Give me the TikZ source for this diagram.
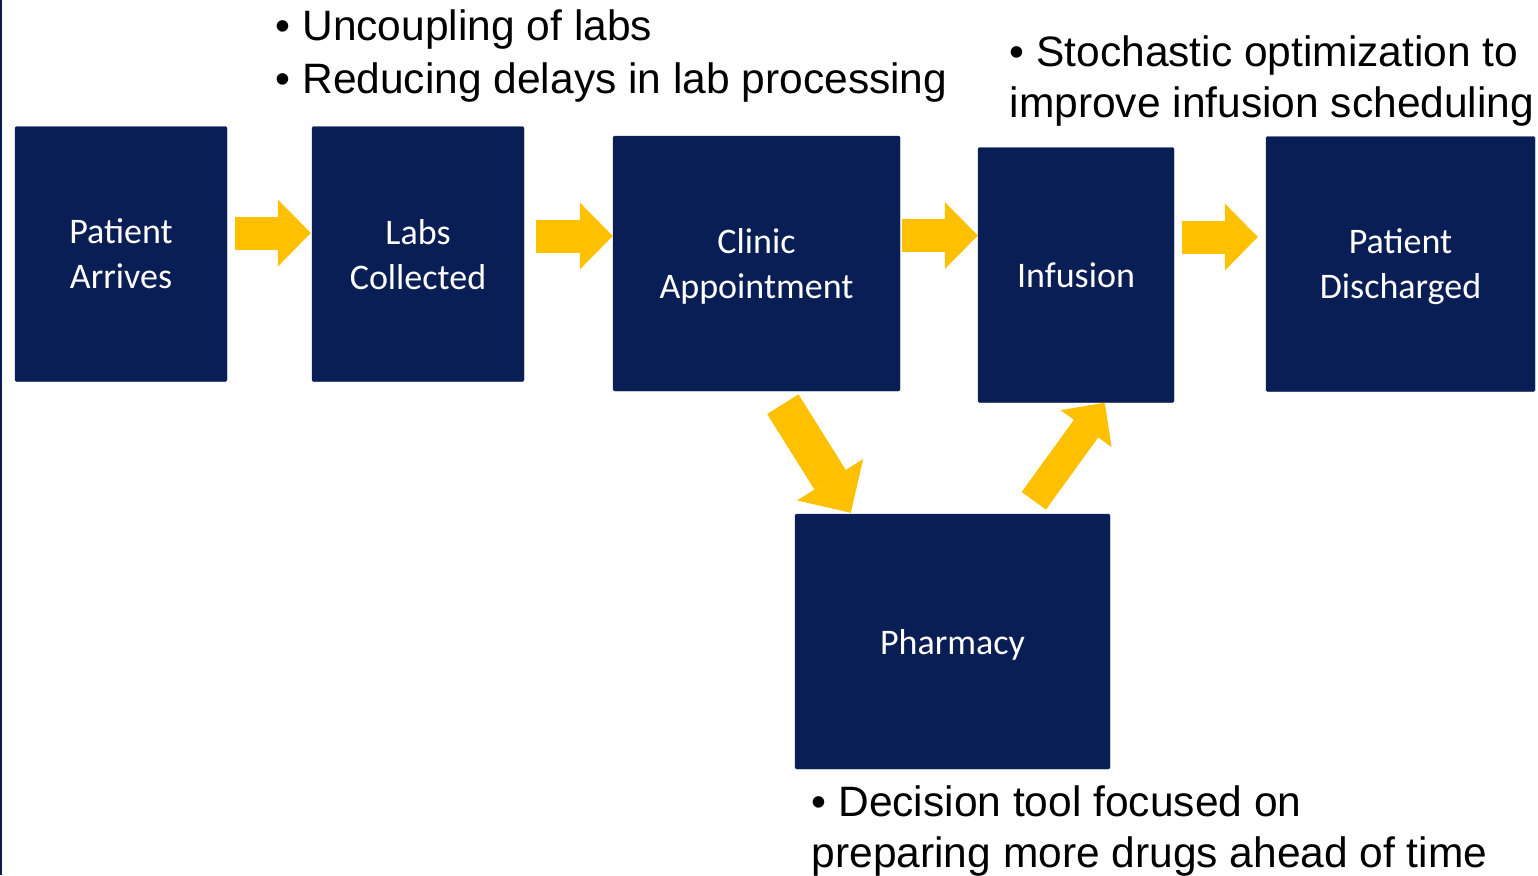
\documentclass[tikz,border=0pt]{standalone}
\usepackage{fontspec}
\setmainfont{Carlito}
\newfontfamily\notefont{Liberation Sans}
\usepackage{tikz}
\usetikzlibrary{arrows.meta}

\definecolor{navy}{HTML}{0A1E56}
\definecolor{gold}{HTML}{FFC000}

\begin{document}
\begin{tikzpicture}[x=1pt, y=-1pt,
    stage/.style={draw=navy, fill=navy, rounded corners=1.5pt, text=white, align=center,
        font=\fontsize{36}{45}\selectfont, minimum height=255pt, text depth=-1.5pt},
    flow/.style={draw=gold, line width=33pt, -{Triangle[length=33pt, width=67pt, line width=0pt]}},
    note/.style={anchor=base west, inner sep=0pt, font=\notefont\fontsize{42.5}{52}\selectfont}]
    \useasboundingbox (0,0) rectangle (1538,875);
    \fill[navy] (0,0) rectangle (2,875);

    % process boxes
    \node[stage, minimum width=212pt] (arrive) at (121,254) {Patient\\Arrives};
    \node[stage, minimum width=212pt] (labs) at (418,254) {Labs\\Collected};
    \node[stage, minimum width=287pt] (clinic) at (756.5,263.5) {Clinic\\Appointment};
    \node[stage, minimum width=196pt] (infuse) at (1076,275) {Infusion};
    \node[stage, minimum width=269pt] (discharge) at (1400.5,264) {Patient\\Discharged};
    \node[stage, minimum width=315pt] (pharm) at (952.5,641.5) {Pharmacy};

    % block arrows
    \draw[flow, shorten <=8pt, shorten >=1pt] (arrive.east |- 0,233) -- (labs.west |- 0,233);
    \draw[flow, shorten <=12pt] (labs.east |- 0,236) -- (clinic.west |- 0,236);
    \draw[flow, shorten <=2pt] (clinic.east |- 0,235.5) -- (infuse.west |- 0,235.5);
    \draw[flow, shorten <=8pt, shorten >=8pt] (infuse.east |- 0,237) -- (discharge.west |- 0,237);
    \draw[flow, line width=37pt, -{Triangle[length=39pt, width=78pt, line width=0pt]}]
        ([shift={(170,13)}]clinic.south west) -- ([shift={(56,-1)}]pharm.north west);
    \draw[flow, line width=30pt, -{Triangle[length=32pt, width=63pt, line width=0pt]}]
        ([shift={(239,-13)}]pharm.north west) -- ([shift={(127,0)}]infuse.south west);

    % notes
    \node[note] (lab1) at (275.5,41) {• Uncoupling of labs};
    \node[note] (lab2) at (275.5,93) {• Reducing delays in lab processing};
    \node[note] (inf1) at (1009.5,66.5) {• Stochastic optimization to};
    \node[note] (inf2) at (1009.5,117.5) {improve infusion scheduling};
    \node[note] (ph1) at (811.5,816) {• Decision tool focused on};
    \node[note] (ph2) at (811.5,867) {preparing more drugs ahead of time};
\end{tikzpicture}
\end{document}
